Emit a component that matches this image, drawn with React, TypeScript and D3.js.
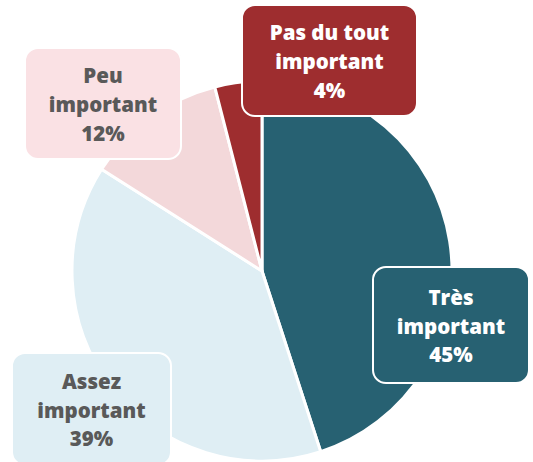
import React from "react";
import * as d3 from "d3";

const categories = ["Très important", "Assez important", "Peu important", "Pas du tout important"];
const values = [45, 39, 12, 4];
const sliceColors = ["#276172", "#DFEEF4", "#F3D8DA", "#9E2D2F"];
const boxColors = ["#276172", "#DFEEF4", "#FAE1E4", "#9E2D2F"];
const textColors = ["#FFFFFF", "#595959", "#595959", "#FFFFFF"];
const labelLines = [
  ["Très", "important", "45%"],
  ["Assez", "important", "39%"],
  ["Peu", "important", "12%"],
  ["Pas du tout", "important", "4%"],
];
// label box layout (x, y, width, height)
const boxLayout = [
  [373, 267, 156, 116],
  [12, 353, 159, 112],
  [25, 48, 156, 111],
  [242, 5, 175, 111],
];

const W = 533;
const H = 462;
const cx = 262;
const cy = 271;
const R = 190;

export default function App() {
  const pie = d3.pie<number>().sort(null).value((d) => d);
  const arcs = pie(values);
  const arcGen = d3.arc<d3.PieArcDatum<number>>().innerRadius(0).outerRadius(R);

  return (
    <svg
      width={W}
      height={H}
      style={{ position: "absolute", left: 0, top: 0, fontFamily: "'Open Sans', sans-serif" }}
    >
      <rect width={W} height={H} fill="#FFFFFF" />
      <g transform={`translate(${cx},${cy})`}>
        {arcs.map((a, i) => (
          <path key={i} d={arcGen(a) || ""} fill={sliceColors[i]} stroke="#FFFFFF" strokeWidth={3} strokeLinejoin="round" />
        ))}
      </g>
      {boxLayout.map(([x, y, w, h], i) => {
        const lines = labelLines[i];
        const midX = x + w / 2;
        const lineH = 28.8;
        const startY = y + h / 2 - lineH + 8.5;
        return (
          <g key={i}>
            <rect x={x} y={y} width={w} height={h} rx={13} ry={13} fill={boxColors[i]} stroke="#FFFFFF" strokeWidth={2} />
            <text textAnchor="middle" fill={textColors[i]} fontSize={20.5} fontWeight={800}>
              {lines.map((t, j) => (
                <tspan key={j} x={midX} y={startY + j * lineH}>
                  {t}
                </tspan>
              ))}
            </text>
          </g>
        );
      })}
    </svg>
  );
}
